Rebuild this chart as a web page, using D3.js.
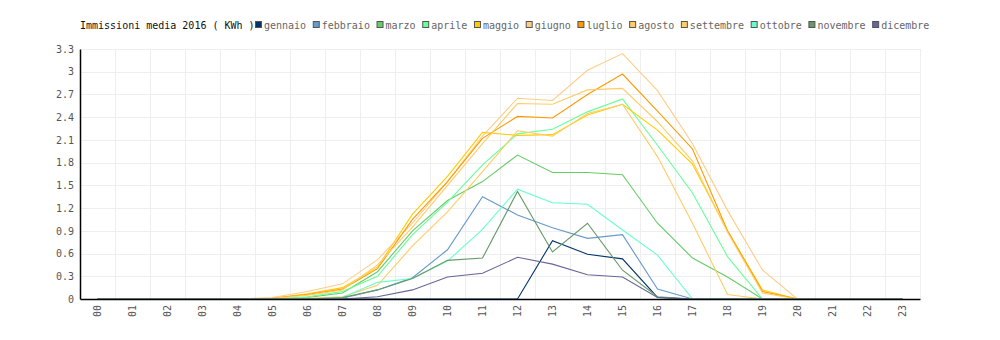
<!DOCTYPE html>
<html><head><meta charset="utf-8">
<script src="https://cdn.jsdelivr.net/npm/d3@7"></script>
<style>
html,body{margin:0;padding:0;background:#fff;}
text{font-family:"DejaVu Sans Mono",monospace;font-size:10px;}
</style></head>
<body><svg id="c" width="1000" height="340"></svg>
<script>
const hours = ["00","01","02","03","04","05","06","07","08","09","10","11","12","13","14","15","16","17","18","19","20","21","22","23"];
const months = ["gennaio","febbraio","marzo","aprile","maggio","giugno","luglio","agosto","settembre","ottobre","novembre","dicembre"];
const colors = ["#003366","#6699cc","#66cc66","#66ff99","#ffcc00","#ffcc88","#ff9900","#ffcc66","#ffcc66","#66ffcc","#669966","#666699"];
const yTicks = [0,0.3,0.6,0.9,1.2,1.5,1.8,2.1,2.4,2.7,3,3.3];
//               00 01 02 03 04 05    06    07    08    09    10    11    12    13    14    15    16    17    18    19    20 21 22 23
const gennaio   = [0,0,0,0,0,0,    0,    0,    0,    0,    0,    0,    0,    0.77, 0.59, 0.53, 0.02, 0,    0,    0,    0,0,0,0];
const febbraio  = [0,0,0,0,0,0,    0,    0.01, 0.12, 0.28, 0.65, 1.35, 1.11, 0.94, 0.80, 0.85, 0.13, 0,    0,    0,    0,0,0,0];
const marzo     = [0,0,0,0,0,0,    0.02, 0.08, 0.36, 0.90, 1.30, 1.55, 1.90, 1.67, 1.67, 1.64, 1.00, 0.54, 0.29, 0,    0,0,0,0];
const aprile    = [0,0,0,0,0,0,    0.03, 0.10, 0.30, 0.85, 1.28, 1.77, 2.18, 2.24, 2.47, 2.64, 2.03, 1.40, 0.56, 0,    0,0,0,0];
const maggio    = [0,0,0,0,0,0.01, 0.07, 0.15, 0.42, 1.12, 1.62, 2.20, 2.16, 2.17, 2.43, 2.57, 2.23, 1.78, 0.90, 0.12, 0,0,0,0];
const giugno    = [0,0,0,0,0,0.02, 0.10, 0.20, 0.52, 1.00, 1.55, 2.15, 2.65, 2.62, 3.02, 3.24, 2.75, 2.05, 1.17, 0.38, 0,0,0,0];
const luglio    = [0,0,0,0,0,0.01, 0.06, 0.13, 0.40, 1.05, 1.55, 2.12, 2.41, 2.39, 2.70, 2.97, 2.48, 1.98, 0.90, 0.10, 0,0,0,0];
const agosto    = [0,0,0,0,0,0.01, 0.05, 0.12, 0.45, 0.95, 1.50, 2.05, 2.58, 2.57, 2.76, 2.78, 2.34, 1.82, 0.88, 0.08, 0,0,0,0];
const settembre = [0,0,0,0,0,0,    0.01, 0.03, 0.18, 0.70, 1.15, 1.68, 2.22, 2.15, 2.45, 2.57, 1.88, 1.00, 0.06, 0,    0,0,0,0];
const ottobre   = [0,0,0,0,0,0,    0,    0.02, 0.22, 0.27, 0.50, 0.92, 1.45, 1.27, 1.25, 0.91, 0.58, 0,    0,    0,    0,0,0,0];
const novembre  = [0,0,0,0,0,0,    0,    0.02, 0.12, 0.27, 0.51, 0.54, 1.42, 0.62, 1.00, 0.38, 0.03, 0,    0,    0,    0,0,0,0];
const dicembre  = [0,0,0,0,0,0,    0,    0,    0.03, 0.12, 0.29, 0.34, 0.55, 0.46, 0.32, 0.29, 0.02, 0,    0,    0,    0,0,0,0];
const seriesValues = [gennaio,febbraio,marzo,aprile,maggio,giugno,luglio,agosto,settembre,ottobre,novembre,dicembre];
const title = "Immissioni media 2016 ( KWh )";

const svg = d3.select("#c");
const m = {l:80, r:80, t:49, b:41};
const W = 1000, H = 340;
const x = d3.scaleBand().domain(hours).range([m.l, W - m.r]);
const y = d3.scaleLinear().domain([0, 3.3]).range([H - m.b, m.t]);

// grid
const g = svg.append("g");
g.selectAll("line.h").data(yTicks.slice(1)).join("line")
  .attr("x1", m.l).attr("x2", W - m.r)
  .attr("y1", d => Math.round(y(d)) + 0.5).attr("y2", d => Math.round(y(d)) + 0.5)
  .attr("stroke", "#eeeeee").attr("stroke-width", 1);
const bounds = hours.slice(1).map(h => x(h)).concat([x.range()[1]]);
g.selectAll("line.v").data(bounds).join("line")
  .attr("x1", d => Math.round(d) + 0.5).attr("x2", d => Math.round(d) + 0.5)
  .attr("y1", m.t).attr("y2", H - m.b)
  .attr("stroke", "#eeeeee").attr("stroke-width", 1);

// lines
const line = d3.line().x((d, i) => x(hours[i]) + x.bandwidth() / 2).y(d => y(d));
seriesValues.forEach((vals, k) => {
  svg.append("path").datum(vals).attr("d", line)
    .attr("fill", "none").attr("stroke", colors[k]).attr("stroke-width", 1.1);
});

// axes (on top)
const yAxis = d3.axisLeft(y).tickValues(yTicks).tickSize(0).tickPadding(6).tickFormat(d => d3.format("")(+d.toFixed(1)));
const ya = svg.append("g").attr("transform", `translate(${m.l},0)`).call(yAxis);
ya.select(".domain").attr("stroke", "#000").attr("stroke-width", 1.5);
ya.selectAll("text").attr("fill", "#555").style("font-family", '"DejaVu Sans Mono",monospace').style("font-size", "10px");

const xAxis = d3.axisBottom(x).tickSize(0).tickPadding(6);
const xa = svg.append("g").attr("transform", `translate(0,${H - m.b})`).call(xAxis);
xa.select(".domain").attr("stroke", "#000").attr("stroke-width", 1.5);
xa.selectAll("text").attr("fill", "#555")
  .attr("transform", "rotate(-90)").attr("text-anchor", "end")
  .attr("x", -6).attr("y", 0).attr("dy", "0.35em")
  .style("font-family", '"DejaVu Sans Mono",monospace').style("font-size", "10px");

// title + legend
svg.append("text").attr("x", 80).attr("y", 29).attr("fill", "#111").text(title);
let lx = 255;
months.forEach((mo, k) => {
  svg.append("rect").attr("x", lx + 0.5).attr("y", 21.5).attr("width", 6).attr("height", 6)
    .attr("fill", colors[k]).attr("stroke", "#555").attr("stroke-width", 1);
  const t = svg.append("text").attr("x", lx + 9).attr("y", 29).attr("fill", "#666").text(mo);
  lx += 9 + t.node().getComputedTextLength() + 6.6;
});
</script></body></html>
